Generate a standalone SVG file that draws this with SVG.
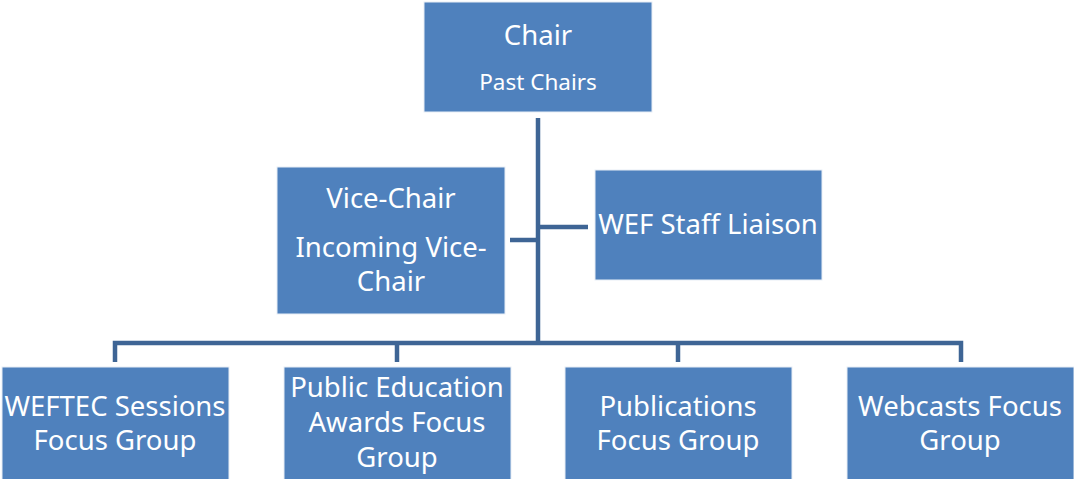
<svg xmlns="http://www.w3.org/2000/svg" width="1074" height="479" viewBox="0 0 1074 479">
<style>
.box{fill:#4F81BD;stroke:#E8EEF6;stroke-width:1}
.t{font-family:"Noto Sans","Liberation Sans",sans-serif;fill:#fff;text-anchor:middle;font-size:27.5px}
.s{font-size:22.5px}
.c{fill:none;stroke:#3E6595;stroke-width:4.5}
</style>
<rect width="1074" height="479" fill="#fff"/>
<g id="connectors">
<path class="c" d="M538,118 V343"/>
<path class="c" d="M510,240 H538"/>
<path class="c" d="M538,227 H588"/>
<path class="c" d="M115,362 V343 H961 V362"/>
<path class="c" d="M397,343 V362"/>
<path class="c" d="M678,343 V362"/>
</g>
<g id="chair">
<rect class="box" x="424" y="2" width="228" height="110"/>
<text class="t" x="538" y="45">Chair</text>
<text class="t s" x="538" y="90">Past Chairs</text>
</g>
<g id="vice-chair">
<rect class="box" x="277" y="167" width="228" height="147"/>
<text class="t" x="391" y="208">Vice-Chair</text>
<text class="t" x="391" y="257">Incoming Vice-</text>
<text class="t" x="391" y="291">Chair</text>
</g>
<g id="staff-liaison">
<rect class="box" x="595" y="170" width="227" height="110"/>
<text class="t" x="708" y="234">WEF Staff Liaison</text>
</g>
<g id="weftec">
<rect class="box" x="2" y="367" width="227" height="115"/>
<text class="t" x="115" y="416">WEFTEC Sessions</text>
<text class="t" x="115" y="450">Focus Group</text>
</g>
<g id="public-education">
<rect class="box" x="284" y="367" width="227" height="115"/>
<text class="t" x="397" y="397">Public Education</text>
<text class="t" x="397" y="432">Awards Focus</text>
<text class="t" x="397" y="467">Group</text>
</g>
<g id="publications">
<rect class="box" x="565" y="367" width="227" height="115"/>
<text class="t" x="678" y="416">Publications</text>
<text class="t" x="678" y="450">Focus Group</text>
</g>
<g id="webcasts">
<rect class="box" x="847" y="367" width="227" height="115"/>
<text class="t" x="960" y="416">Webcasts Focus</text>
<text class="t" x="960" y="450">Group</text>
</g>
</svg>
